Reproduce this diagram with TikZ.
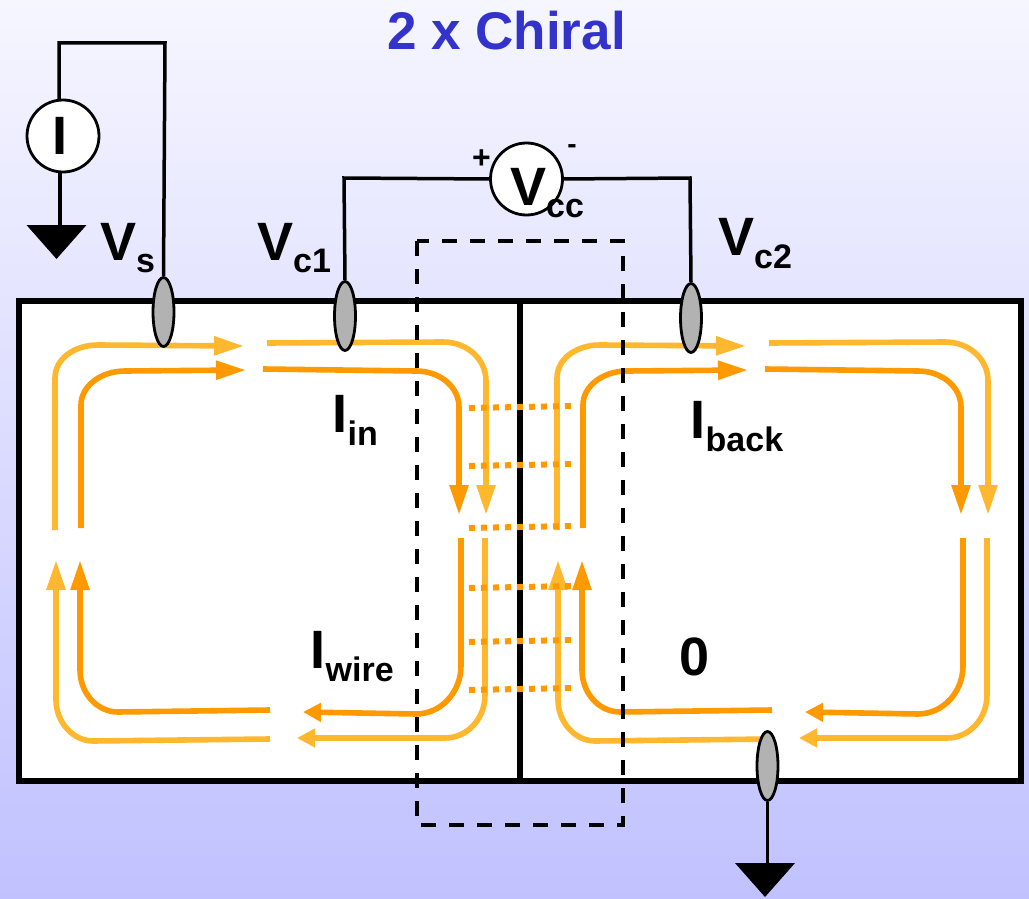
\documentclass[tikz,border=0pt]{standalone}
\usepackage{fontspec}
\setmainfont{Liberation Sans}
\usetikzlibrary{arrows.meta,shapes.geometric}
\definecolor{amberlight}{RGB}{255,184,46}
\definecolor{amberdark}{RGB}{255,153,0}
\definecolor{titleblue}{RGB}{51,51,204}
\definecolor{bgtop}{RGB}{246,246,255}
\definecolor{bgbottom}{RGB}{193,193,255}
\definecolor{contactgray}{RGB}{178,178,178}
\newcommand{\sublab}[2]{#1\raisebox{-12.5pt}{\fontsize{34}{40}\selectfont #2}}
\tikzset{
  lab/.style={font=\fontsize{54}{60}\selectfont\bfseries,inner sep=0pt,anchor=base west},
  wire/.style={draw=black,line width=3.5pt},
  contact/.style={ellipse,draw=black,line width=2.8pt,fill=contactgray,inner sep=0pt,
    minimum width=21pt,minimum height=69pt},
  meter/.style={circle,draw=black,line width=2.8pt,fill=white,inner sep=0pt,outer sep=0pt,minimum size=72pt},
  chan/.style={draw=#1,line width=5.6pt},
  long tip/.style={-{Triangle[length=30pt,width=18pt,fill=#1]}},
  short tip/.style={-{Triangle[length=18pt,width=18pt,fill=#1]}},
  link/.style={draw=amberdark,line width=6pt,dash pattern=on 6pt off 6pt},
  % pictograms
  pics/gnd/.style={code={
    \fill[black] (-30,0) -- (30,0) -- (0,34) -- cycle;
  }},
  pics/chiral/.style={code={
    \draw[chan=amberlight,long tip=amberlight] (55,530) -- (55,378) .. controls (55,359) and (74,345) .. (98,345) -- (244,346);
    \draw[chan=amberdark,long tip=amberdark] (81,528) -- (81,405) .. controls (81,386) and (101,371) .. (125,371) -- (246,370);
    \draw[chan=amberlight,long tip=amberlight] (267,343) -- (443,342) .. controls (467,342) and (486,359) .. (486,381) -- (486,515);
    \draw[chan=amberdark,long tip=amberdark] (263,369) -- (416,371) .. controls (440,371) and (459,387) .. (459,407) -- (459,515);
    \draw[chan=amberdark,short tip=amberdark] (461,538) -- (461,666) .. controls (461,692) and (441,714) .. (416,714) -- (303,712);
    \draw[chan=amberlight,short tip=amberlight] (485,538) -- (485,695) .. controls (485,719) and (467,738) .. (445,738) -- (297,738);
    \draw[chan=amberdark,long tip=amberdark] (270,710) -- (118,712) .. controls (97,712) and (80,693) .. (80,670) -- (80,560);
    \draw[chan=amberlight,long tip=amberlight] (270,739) -- (93,741) .. controls (73,741) and (56,722) .. (56,700) -- (56,560);
  }},
}
\begin{document}
\begin{tikzpicture}[x=1pt,y=-1pt]
  \shade[top color=bgtop,bottom color=bgbottom] (0,0) rectangle (1029,899);
  \node[font=\fontsize{53}{60}\selectfont\bfseries,text=titleblue,inner sep=0pt] (title) at (506.5,31) {2 x Chiral};
  \draw[fill=white,line width=6pt] (18.5,301) rectangle (1021,781);
  \draw[line width=6pt] (520,301) -- (520,781);
  \pic at (0,0) {chiral};
  \pic at (502,0) {chiral};
  \foreach \yl/\yr in {408/406,466/464,528/526,588/586,642/640,690/688}
    \draw[link] (469,\yl) -- (571,\yr);
  % contacts and meters
  \node[contact] (cs) at (163.5,312) {};
  \node[contact] (c1) at (345,316) {};
  \node[contact] (c2) at (691,318) {};
  \node[contact] (cd) at (767.5,766) {};
  \node[meter,font=\fontsize{54}{60}\selectfont\bfseries] (isrc) at (63,136) {\kern-5pt I};
  \node[meter] (vcc) at (526.5,179) {};
  \coordinate (itop) at (59,43);
  \coordinate (itopr) at (165,43);
  \coordinate (gndl) at (60,225);
  \coordinate (vl) at (344,178);
  \coordinate (vr) at (690,178);
  \coordinate (gndr) at (767.5,863);
  \draw[wire] (itop |- isrc.north) -- (itop) -- (itopr) -- (cs.north);
  \draw[wire] (gndl |- isrc.south) -- (gndl);
  \draw[wire] (c1.north) -- (vl) -- (vcc.west);
  \draw[wire] (vcc.east) -- (vr) -- (c2.north);
  \draw[wire] (cd.south) -- (gndr);
  \pic at (56.5,225) {gnd};
  \pic at (765,863) {gnd};
  \draw[line width=4pt,dash pattern=on 15pt off 13pt] (417,241) rectangle (623,825);
  % labels
  \node[lab] (vs) at (100,260) {\sublab{V}{s}};
  \node[lab] (vc1) at (257,260) {\sublab{V}{c1}};
  \node[lab] (vc2) at (718,255.5) {\sublab{V}{c2}};
  \node[lab] (vcclab) at (510,205) {\sublab{V}{cc}};
  \node[lab] (iin) at (332.5,432.5) {\sublab{I}{in}};
  \node[lab] (iback) at (690.5,438.5) {\sublab{I}{back}};
  \node[lab] (iwire) at (310.5,668.5) {\sublab{I}{wire}};
  \node[lab] (zero) at (679,675) {0};
  \node[font=\fontsize{32}{34}\selectfont\bfseries,inner sep=0pt] (plus) at (481.5,159) {+};
  \node[font=\fontsize{28}{30}\selectfont\bfseries,inner sep=0pt] (minus) at (572,149) {-};
\end{tikzpicture}
\end{document}
